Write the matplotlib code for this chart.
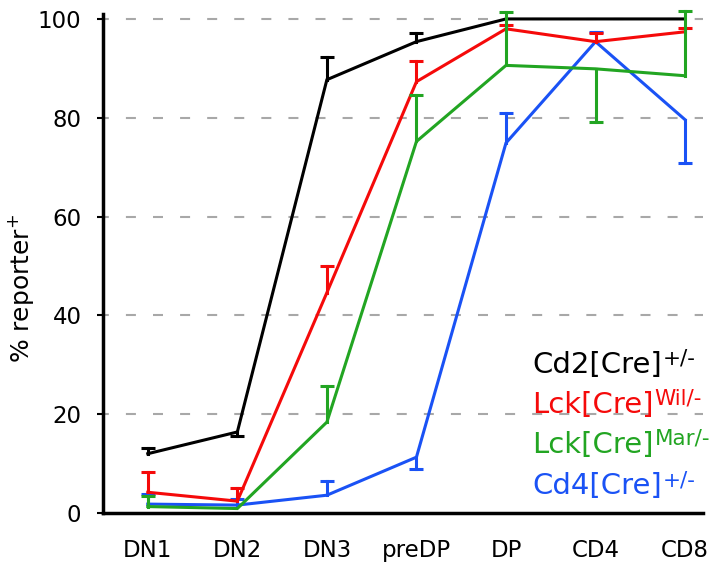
import matplotlib
matplotlib.use("Agg")
import matplotlib.pyplot as plt
import numpy as np

plt.rcParams['font.family'] = ['DejaVu Sans']
plt.rcParams['mathtext.fontset'] = 'dejavusans'

stages = ["DN1", "DN2", "DN3", "preDP", "DP", "CD4", "CD8"]

cd2_vals = [12.0, 16.4, 87.7, 95.4, 100.0, 100.0, 100.0]
cd2_err_lo = [0, 0.9, 0, 0, 0, 0, 0]
cd2_err_hi = [1.1, 0, 4.6, 1.8, 0, 0, 0]

wil_vals = [4.2, 2.4, 44.6, 87.3, 98.0, 95.4, 97.4]
wil_err_lo = [0, 0, 0, 0, 0, 0, 0]
wil_err_hi = [4.1, 2.6, 5.4, 4.1, 0.8, 1.8, 0.8]

mar_vals = [1.3, 0.9, 18.4, 75.2, 90.6, 89.9, 88.5]
mar_err_lo = [0, 0, 0, 0, 0, 10.8, 0]
mar_err_hi = [2.2, 0, 7.3, 9.4, 10.9, 0, 13.2]

cd4_vals = [1.8, 1.6, 3.6, 11.3, 74.9, 95.4, 79.6]
cd4_err_lo = [0, 0, 0, 2.4, 0, 0, 8.7]
cd4_err_hi = [2.0, 1.2, 2.9, 0, 6.1, 2.0, 0]

label_base = ["Cd2[Cre]", "Lck[Cre]", "Lck[Cre]", "Cd4[Cre]"]
label_sup = ["+/-", "Wil/-", "Mar/-", "+/-"]
colors = ["#000000", "#f50a0a", "#22a522", "#1a52f5"]
zorders = [3, 5, 6, 4]

series = [
    (cd2_vals, cd2_err_lo, cd2_err_hi),
    (wil_vals, wil_err_lo, wil_err_hi),
    (mar_vals, mar_err_lo, mar_err_hi),
    (cd4_vals, cd4_err_lo, cd4_err_hi),
]

fig = plt.figure(figsize=(7.24, 5.75), dpi=100)
ax = fig.add_axes([103/724, 62/575, (703-103)/724, (513-14)/575])

x = np.arange(len(stages))
lw = 2.2
for (vals, lo, hi), col, zo in zip(series, colors, zorders):
    ax.plot(x, vals, color=col, lw=lw, zorder=zo, clip_on=False,
            solid_joinstyle='miter')
    for xi, v, l, h in zip(x, vals, lo, hi):
        if h > 0:
            ax.plot([xi, xi], [v, v + h], color=col, lw=lw, zorder=zo, clip_on=False)
            ax.plot([xi], [v + h], marker='_', ms=9.5, mew=lw, color=col,
                    zorder=zo, clip_on=False)
        if l > 0:
            ax.plot([xi, xi], [v - l, v], color=col, lw=lw, zorder=zo, clip_on=False)
            ax.plot([xi], [v - l], marker='_', ms=9.5, mew=lw, color=col,
                    zorder=zo, clip_on=False)

ax.set_xlim(-0.5, 6.2)
ax.set_ylim(0, 101)
ax.set_yticks([0, 20, 40, 60, 80, 100])
ax.set_xticks(x)
ax.set_xticklabels(stages)
ax.tick_params(axis='x', length=0, pad=19, labelsize=16.5)
ax.tick_params(axis='y', length=4.5, width=1.5, direction='out', pad=11, labelsize=16.5)
for y in [20, 40, 60, 80, 100]:
    ax.axhline(y, color='#a8a8a8', lw=1.5, ls=(2, (4.8, 8.2)), zorder=1)
ax.spines['top'].set_visible(False)
ax.spines['right'].set_visible(False)
ax.spines['left'].set_linewidth(2.5)
ax.spines['bottom'].set_linewidth(2.5)
ax.set_ylabel(r"% reporter$^{+}$", fontsize=18)
ax.yaxis.set_label_coords(-0.112, 0.45)

fig.canvas.draw()
renderer = fig.canvas.get_renderer()
ys = [365, 405, 445, 486]
for base, sup, col, yp in zip(label_base, label_sup, colors, ys):
    t = fig.text(532/724, 1 - yp/575, base, color=col, fontsize=21,
                 va='center', ha='left')
    bb = t.get_window_extent(renderer)
    fig.text(bb.x1 / 724 + 1/724, (bb.y1 - 18) / 575, sup, color=col,
             fontsize=15.5, va='bottom', ha='left')

fig.savefig("out.png", dpi=100)
